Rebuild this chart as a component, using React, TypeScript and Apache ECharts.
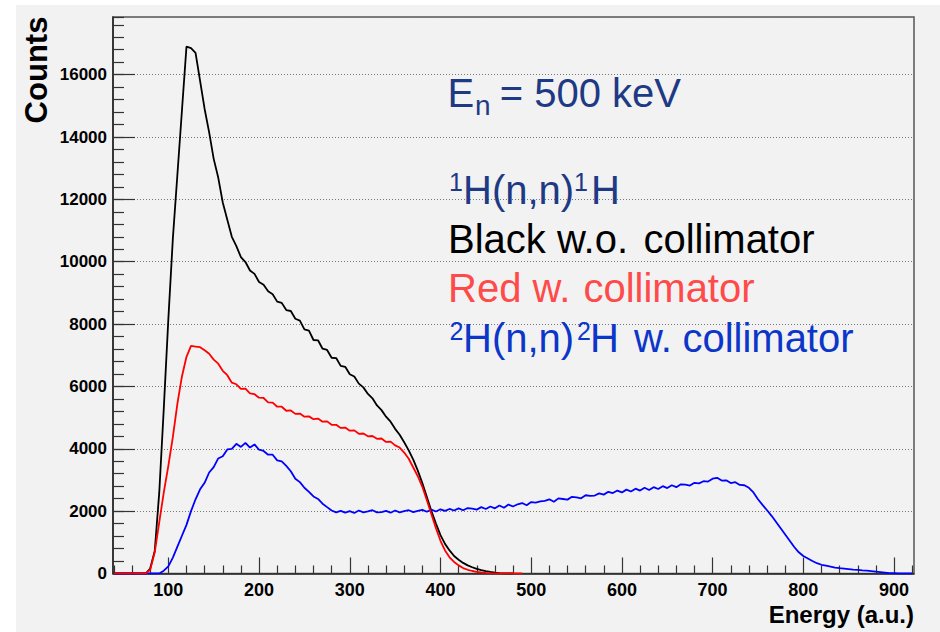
import React, { useEffect, useRef } from "react";
import * as echarts from "echarts";

// Energy bin centres (a.u.), rows of 10
const energy = [
  40, 45, 50, 55, 60, 65, 70, 75, 80, 85,
  90, 95, 100, 105, 110, 115, 120, 125, 130, 135,
  140, 145, 150, 155, 160, 165, 170, 175, 180, 185,
  190, 195, 200, 205, 210, 215, 220, 225, 230, 235,
  240, 245, 250, 255, 260, 265, 270, 275, 280, 285,
  290, 295, 300, 305, 310, 315, 320, 325, 330, 335,
  340, 345, 350, 355, 360, 365, 370, 375, 380, 385,
  390, 395, 400, 405, 410, 415, 420, 425, 430, 435,
  440, 445, 450, 455, 460, 465, 470, 475, 480, 485,
  490, 495, 500, 505, 510, 515, 520, 525, 530, 535,
  540, 545, 550, 555, 560, 565, 570, 575, 580, 585,
  590, 595, 600, 605, 610, 615, 620, 625, 630, 635,
  640, 645, 650, 655, 660, 665, 670, 675, 680, 685,
  690, 695, 700, 705, 710, 715, 720, 725, 730, 735,
  740, 745, 750, 755, 760, 765, 770, 775, 780, 785,
  790, 795, 800, 805, 810, 815, 820, 825, 830, 835,
  840, 845, 850, 855, 860, 865, 870, 875, 880, 885,
  890, 895, 900, 905, 910, 915, 920,
];

// 1H(n,n)1H without collimator (black), 40..480
const blackCounts = [
  0, 0, 0, 0, 0, 0, 0, 0, 160, 720,
  2600, 5300, 8150, 10750, 12800, 14850, 16900, 16850, 16700, 15800,
  14900, 14150, 13300, 12700, 11900, 11350, 10800, 10500, 10150, 9990,
  9720, 9610, 9350, 9260, 9050, 8960, 8720, 8680, 8450, 8420,
  8170, 8110, 7830, 7790, 7490, 7480, 7210, 7170, 6920, 6910,
  6660, 6630, 6390, 6320, 6090, 5970, 5760, 5620, 5390, 5240,
  5030, 4870, 4640, 4450, 4210, 3950, 3650, 3300, 2900, 2450,
  2000, 1600, 1230, 950, 740, 560, 440, 340, 260, 200,
  150, 105, 75, 50, 30, 15, 6, 0, 0,
];

// 1H(n,n)1H with collimator (red), 40..490
const redCounts = [
  0, 0, 0, 0, 0, 0, 0, 0, 120, 680,
  1650, 2600, 3450, 4380, 5450, 6320, 6950, 7300, 7280, 7260,
  7160, 7050, 6860, 6730, 6500, 6360, 6120, 6070, 5920, 5930,
  5780, 5750, 5640, 5630, 5490, 5480, 5350, 5350, 5220, 5230,
  5120, 5130, 5030, 5040, 4950, 4970, 4870, 4880, 4770, 4770,
  4670, 4680, 4580, 4590, 4480, 4490, 4400, 4410, 4320, 4330,
  4220, 4230, 4110, 4040, 3880, 3680, 3400, 3120, 2780, 2350,
  1900, 1450, 1050, 740, 520, 370, 260, 175, 120, 80,
  55, 35, 20, 10, 5, 0, 0, 0, 0, 0,
  0,
];

// 2H(n,n)2H with collimator (blue), 40..920
const blueCounts = [
  0, 0, 0, 0, 0, 0, 0, 0, 0, 0,
  0, 90, 230, 510, 860, 1210, 1560, 2000, 2380, 2700,
  2910, 3240, 3410, 3690, 3760, 3980, 4000, 4160, 4060, 4190,
  4040, 4140, 3970, 3930, 3810, 3810, 3630, 3600, 3450, 3280,
  3040, 2930, 2750, 2620, 2470, 2390, 2240, 2130, 2020, 1960,
  2010, 1950, 2000, 1940, 2020, 1960, 1990, 2030, 1960, 1970,
  2010, 1950, 2020, 1960, 2000, 2030, 1970, 2010, 2040, 1980,
  2050, 1990, 2060, 2010, 2070, 2020, 2090, 2030, 2100, 2080,
  2050, 2130, 2070, 2150, 2090, 2180, 2110, 2210, 2150, 2220,
  2260, 2190, 2290, 2270, 2310, 2330, 2380, 2300, 2410, 2390,
  2370, 2460, 2440, 2410, 2510, 2490, 2500, 2570, 2530, 2620,
  2580, 2660, 2600, 2690, 2630, 2720, 2660, 2750, 2680, 2770,
  2710, 2800, 2740, 2830, 2770, 2860, 2850, 2820, 2910, 2890,
  2960, 2950, 3040, 3070, 2980, 2990, 2900, 2930, 2840, 2830,
  2750, 2600, 2380, 2200, 2030, 1850, 1650, 1450, 1250, 1050,
  850, 680, 560, 480, 400, 330, 280, 250, 220, 190,
  170, 155, 140, 125, 115, 100, 90, 75, 60, 45,
  30, 15, 8, 0, 0, 0, 0,
];

const xMajorTicks = [100, 200, 300, 400, 500, 600, 700, 800, 900];
const xMinorTicks = [
  40, 60, 80, 120, 140, 160, 180, 220, 240, 260, 280, 320, 340, 360, 380,
  420, 440, 460, 480, 520, 540, 560, 580, 620, 640, 660, 680, 720, 740, 760,
  780, 820, 840, 860, 880, 920,
];

const FONT = "'Liberation Sans', Arial, Helvetica, sans-serif";
const NAVY = "#1e3a84";
const RED_TXT = "#ff4a4a";
const BLUE_TXT = "#0b36c9";

function pairs(values: number[]) {
  return values.map((v, i) => [energy[i], v]);
}

function txt(text: string, x: number, y: number, size: number, color: string, extra: any = {}) {
  return {
    type: "text",
    x,
    y,
    silent: true,
    style: {
      text,
      x: 0,
      y: 0,
      fill: color,
      font: `${extra.weight || "normal"} ${size}px ${FONT}`,
      align: extra.align || "left",
      verticalAlign: "middle",
    },
    rotation: extra.rotation || 0,
    z: 10,
  };
}

export default function App() {
  const ref = useRef<HTMLDivElement>(null);

  useEffect(() => {
    if (!ref.current) return;
    const chart = echarts.init(ref.current, undefined, { renderer: "svg" });
    const yMax = 17850;
    const option: any = {
      animation: false,
      backgroundColor: "#f2f2f2",
      grid: {
        left: 113,
        top: 17,
        right: 26,
        bottom: 58.5,
        show: true,
        borderColor: "#555",
        borderWidth: 1.5,
        backgroundColor: "transparent",
      },
      xAxis: [
        {
          type: "value",
          min: 39,
          max: 922,
          position: "bottom",
          axisLine: { show: true, lineStyle: { color: "#222", width: 1.5 } },
          axisTick: {
            show: true,
            inside: true,
            length: 16,
            customValues: xMajorTicks,
            lineStyle: { color: "#333", width: 1.2 },
          },
          axisLabel: {
            show: true,
            customValues: xMajorTicks,
            margin: 7,
            color: "#000",
            fontFamily: FONT,
            fontWeight: "bold",
            fontSize: 18,
            formatter: (v: number) => String(v),
          },
          splitLine: { show: false },
        },
        {
          type: "value",
          min: 39,
          max: 922,
          position: "bottom",
          axisLine: { show: false },
          axisTick: {
            show: true,
            inside: true,
            length: 8,
            customValues: xMinorTicks,
            lineStyle: { color: "#333", width: 1.2 },
          },
          axisLabel: { show: false },
          splitLine: { show: false },
        },
      ],
      yAxis: [
        {
          type: "value",
          min: 0,
          max: yMax,
          interval: 2000,
          axisLine: { show: true, lineStyle: { color: "#222", width: 1.5 } },
          axisTick: { show: true, inside: true, length: 22, lineStyle: { color: "#333", width: 1.2 } },
          axisLabel: {
            show: true,
            showMaxLabel: false,
            margin: 6,
            color: "#000",
            fontFamily: FONT,
            fontWeight: "bold",
            fontSize: 17,
            formatter: (v: number) => String(v),
          },
          splitLine: { show: true, lineStyle: { color: "#777", width: 1, type: [1, 2] } },
        },
        {
          type: "value",
          min: 0,
          max: yMax,
          interval: 400,
          position: "left",
          axisLine: { show: false },
          axisTick: { show: true, inside: true, length: 11, lineStyle: { color: "#333", width: 1.2 } },
          axisLabel: { show: false },
          splitLine: { show: false },
        },
      ],
      series: [
        {
          type: "line",
          name: "black",
          xAxisIndex: 0,
          yAxisIndex: 0,
          data: pairs(blackCounts),
          showSymbol: false,
          symbol: "none",
          lineStyle: { color: "#000", width: 1.8 },
          z: 3,
        },
        {
          type: "line",
          name: "blue",
          xAxisIndex: 0,
          yAxisIndex: 0,
          data: pairs(blueCounts),
          showSymbol: false,
          symbol: "none",
          lineStyle: { color: "#0000ff", width: 1.8 },
          z: 4,
        },
        {
          type: "line",
          name: "red",
          xAxisIndex: 0,
          yAxisIndex: 0,
          data: pairs(redCounts),
          showSymbol: false,
          symbol: "none",
          lineStyle: { color: "#ff0000", width: 1.8 },
          z: 5,
        },
      ],
      graphic: [
        { type: "rect", shape: { x: 0, y: 0, width: 940, height: 5 }, style: { fill: "#ffffff" }, silent: true },
        { type: "rect", shape: { x: 0, y: 0, width: 16, height: 632 }, style: { fill: "#ffffff" }, silent: true },
        txt("Counts", 36, 70, 31, "#000", { weight: "bold", align: "center", rotation: Math.PI / 2 }),
        txt("Energy (a.u.)", 914, 614, 24, "#000", { weight: "bold", align: "right" }),
        // E_n = 500 keV
        txt("E", 447.5, 92.8, 40, NAVY),
        txt("n", 475, 105.3, 28, NAVY),
        txt("= 500 keV", 499.8, 92.8, 40, NAVY),
        // 1H(n,n)1H
        txt("1", 449, 182, 25, NAVY),
        txt("H(n,n)", 463, 190.1, 40, NAVY),
        txt("1", 574, 182, 25, NAVY),
        txt("H", 591, 190.1, 40, NAVY),
        // Black w.o. collimator
        txt("Black w.o.", 448, 239.4, 40, "#000"),
        txt("collimator", 643.4, 239.4, 40, "#000"),
        // Red w. collimator
        txt("Red w.", 448, 288.4, 40, RED_TXT),
        txt("collimator", 583.4, 288.4, 40, RED_TXT),
        // 2H(n,n)2H w. collimator
        txt("2", 449.5, 330.6, 25, BLUE_TXT),
        txt("H(n,n)", 463, 337.8, 40, BLUE_TXT),
        txt("2", 577, 330.6, 25, BLUE_TXT),
        txt("H", 590, 337.8, 40, BLUE_TXT),
        txt("w.", 634, 337.8, 40, BLUE_TXT),
        txt("collimator", 682.4, 337.8, 40, BLUE_TXT),
      ],
    };
    chart.setOption(option);
    return () => chart.dispose();
  }, []);

  return (
    <div
      ref={ref}
      style={{ position: "fixed", left: 0, top: 0, width: 940, height: 632, background: "#ffffff" }}
    />
  );
}
